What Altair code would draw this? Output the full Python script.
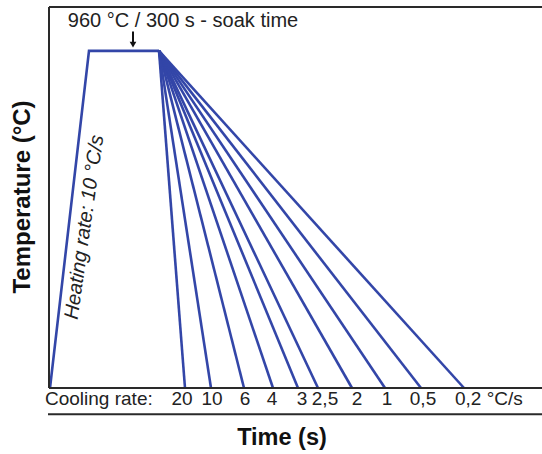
import altair as alt
import pandas as pd

# ---- data (schematic units: x = time units, y = temperature °C) ----
heat_x = [1, 40, 110]
heat_t = [0, 960, 960]

cool_rates = ["20", "10", "6", "4", "3", "2,5", "2", "1", "0,5", "0,2"]
cool_end_x = [136, 162, 195, 224, 249, 269, 303, 336, 372, 415]
soak_end_x = 110
soak_temp = 960

label_text = ["20", "10", "6", "4", "3", "2,5", "2", "1", "0,5"]
label_x = [133, 163, 196, 223, 253, 276, 308, 338, 374]
last_label = "0,2 °C/s"
last_label_x = 406

X_MAX = 493
T_MAX = 1085

BLUE = "#3346a8"
DARK = "#2a2a2a"
FONT = "Liberation Sans"

rows = []
for x, t in zip(heat_x, heat_t):
    rows.append({"series": "heat", "x": x, "t": t, "o": len(rows)})
for r, ex in zip(cool_rates, cool_end_x):
    rows.append({"series": "c" + r, "x": soak_end_x, "t": soak_temp, "o": 0})
    rows.append({"series": "c" + r, "x": ex, "t": 0, "o": 1})
lines_df = pd.DataFrame(rows)

xs = alt.Scale(domain=[0, X_MAX], nice=False, zero=False)
ys = alt.Scale(domain=[0, T_MAX], nice=False, zero=False)

lines = alt.Chart(lines_df).mark_line(color=BLUE, strokeWidth=2.6).encode(
    x=alt.X("x:Q", scale=xs, axis=None),
    y=alt.Y("t:Q", scale=ys, axis=None),
    detail="series:N",
    order="o:Q",
)

# frame lines
frame_df = pd.DataFrame({
    "x": [0, 0, -1], "x2": [X_MAX, X_MAX, X_MAX],
    "t": [T_MAX, 0, -75], "t2": [T_MAX, 0, -75],
})
frame_h = alt.Chart(frame_df).mark_rule(color=DARK, strokeWidth=2).encode(
    x=alt.X("x:Q", scale=xs), x2="x2:Q",
    y=alt.Y("t:Q", scale=ys), y2="t2:Q",
)
frame_v = alt.Chart(pd.DataFrame({"x": [0], "t": [0], "t2": [T_MAX]})).mark_rule(
    color=DARK, strokeWidth=2).encode(
    x=alt.X("x:Q", scale=xs), y=alt.Y("t:Q", scale=ys), y2="t2:Q",
)

# cooling rate labels
lab_df = pd.DataFrame({"x": label_x, "label": label_text, "t": [-31] * len(label_x)})
labels = alt.Chart(lab_df).mark_text(
    fontSize=19, font=FONT, color="#222", baseline="middle", align="center").encode(
    x=alt.X("x:Q", scale=xs), y=alt.Y("t:Q", scale=ys), text="label:N",
)
extra_df = pd.DataFrame({
    "x": [last_label_x, -4],
    "t": [-31, -31],
    "label": [last_label, "Cooling rate:"],
})
extra_labels = alt.Chart(extra_df).mark_text(
    fontSize=19, font=FONT, color="#222", baseline="middle", align="left").encode(
    x=alt.X("x:Q", scale=xs), y=alt.Y("t:Q", scale=ys), text="label:N",
)

# annotations
top_text = alt.Chart(pd.DataFrame({"x": [134], "t": [1044], "label": ["960 °C / 300 s - soak time"]})).mark_text(
    fontSize=20, font=FONT, color="#222", baseline="middle", align="center").encode(
    x=alt.X("x:Q", scale=xs), y=alt.Y("t:Q", scale=ys), text="label:N",
)
arrow_line = alt.Chart(pd.DataFrame({"x": [84], "t": [1015], "t2": [978]})).mark_rule(
    color="#111", strokeWidth=2).encode(
    x=alt.X("x:Q", scale=xs), y=alt.Y("t:Q", scale=ys), y2="t2:Q",
)
arrow_head = alt.Chart(pd.DataFrame({"x": [84], "t": [978]})).mark_point(
    shape="triangle-down", filled=True, color="#111", size=45, opacity=1).encode(
    x=alt.X("x:Q", scale=xs), y=alt.Y("t:Q", scale=ys),
)
heat_text = alt.Chart(pd.DataFrame({"x": [35.5], "t": [458], "label": ["Heating rate: 10 °C/s"]})).mark_text(
    fontSize=20, font=FONT, fontStyle="italic", color="#222", angle=278,
    baseline="middle", align="center").encode(
    x=alt.X("x:Q", scale=xs), y=alt.Y("t:Q", scale=ys), text="label:N",
)
ytitle = alt.Chart(pd.DataFrame({"x": [-26], "t": [544], "label": ["Temperature (°C)"]})).mark_text(
    fontSize=24, font=FONT, fontWeight="bold", color="#111", angle=270,
    baseline="middle", align="center").encode(
    x=alt.X("x:Q", scale=xs), y=alt.Y("t:Q", scale=ys), text="label:N",
)
xtitle = alt.Chart(pd.DataFrame({"x": [233], "t": [-142], "label": ["Time (s)"]})).mark_text(
    fontSize=23.5, font=FONT, fontWeight="bold", color="#111",
    baseline="middle", align="center").encode(
    x=alt.X("x:Q", scale=xs), y=alt.Y("t:Q", scale=ys), text="label:N",
)

chart = alt.layer(
    lines, frame_h, frame_v, labels, extra_labels, top_text,
    arrow_line, arrow_head, heat_text, ytitle, xtitle,
).properties(
    width=493, height=381,
    autosize=alt.AutoSizeParams(type="none"),
    padding={"left": 49, "top": 7, "right": 0, "bottom": 66},
).configure_view(stroke=None).configure(background="white")

chart.save("out.html", embed_options={"renderer": "svg", "actions": False})
